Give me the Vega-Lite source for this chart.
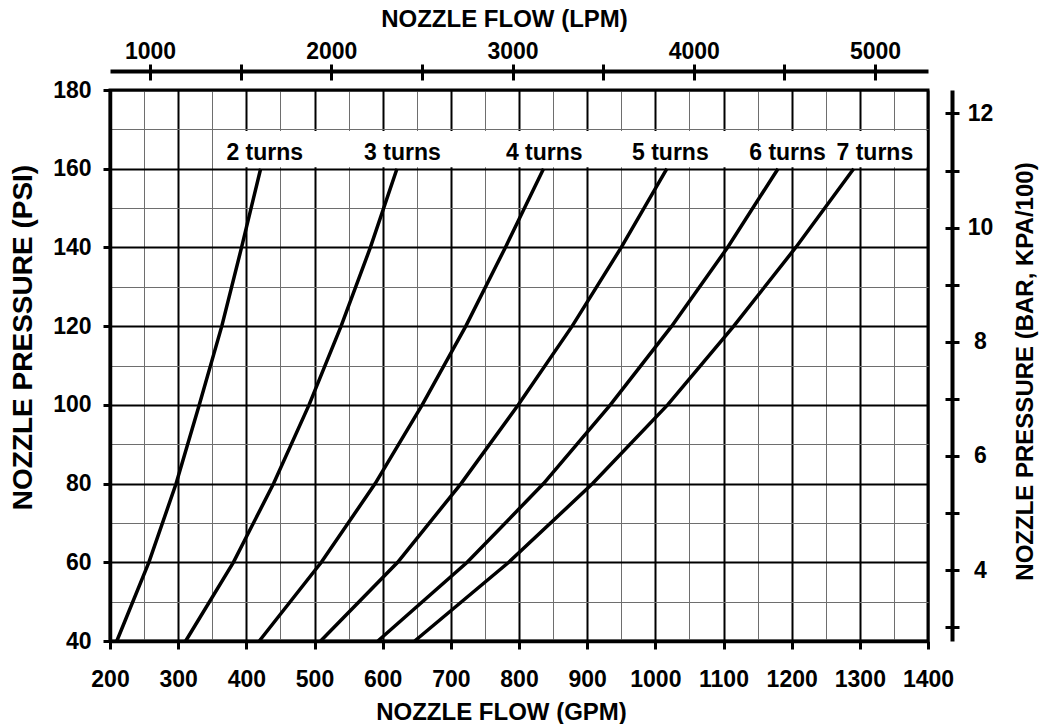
{
  "$schema": "https://vega.github.io/schema/vega-lite/v6.json",
  "width": 818,
  "height": 551,
  "autosize": {"type": "none"},
  "padding": {"left": 110, "top": 90, "right": 111, "bottom": 83},
  "background": "white",
  "config": {
    "view": {"stroke": "black", "strokeWidth": 3},
    "font": "Liberation Sans",
    "axis": {
      "labelFont": "Liberation Sans", "labelFontWeight": "bold", "labelFontSize": 23, "labelColor": "black",
      "titleFont": "Liberation Sans", "titleFontWeight": "bold", "titleFontSize": 24, "titleColor": "black",
      "labelOverlap": false, "labelFlush": false
    }
  },
  "datasets": {
    "curves": [
      {"turns": "2 turns", "psi": 40, "gpm": 210}, {"turns": "2 turns", "psi": 60, "gpm": 257}, {"turns": "2 turns", "psi": 80, "gpm": 297}, {"turns": "2 turns", "psi": 100, "gpm": 331}, {"turns": "2 turns", "psi": 120, "gpm": 364}, {"turns": "2 turns", "psi": 140, "gpm": 393}, {"turns": "2 turns", "psi": 160, "gpm": 421},
      {"turns": "3 turns", "psi": 40, "gpm": 311}, {"turns": "3 turns", "psi": 60, "gpm": 381}, {"turns": "3 turns", "psi": 80, "gpm": 440}, {"turns": "3 turns", "psi": 100, "gpm": 492}, {"turns": "3 turns", "psi": 120, "gpm": 539}, {"turns": "3 turns", "psi": 140, "gpm": 582}, {"turns": "3 turns", "psi": 160, "gpm": 621},
      {"turns": "4 turns", "psi": 40, "gpm": 419}, {"turns": "4 turns", "psi": 60, "gpm": 510}, {"turns": "4 turns", "psi": 80, "gpm": 589}, {"turns": "4 turns", "psi": 100, "gpm": 658}, {"turns": "4 turns", "psi": 120, "gpm": 722}, {"turns": "4 turns", "psi": 140, "gpm": 780}, {"turns": "4 turns", "psi": 160, "gpm": 836},
      {"turns": "5 turns", "psi": 40, "gpm": 509}, {"turns": "5 turns", "psi": 60, "gpm": 622}, {"turns": "5 turns", "psi": 80, "gpm": 715}, {"turns": "5 turns", "psi": 100, "gpm": 799}, {"turns": "5 turns", "psi": 120, "gpm": 878}, {"turns": "5 turns", "psi": 140, "gpm": 950}, {"turns": "5 turns", "psi": 160, "gpm": 1017},
      {"turns": "6 turns", "psi": 40, "gpm": 593}, {"turns": "6 turns", "psi": 60, "gpm": 724}, {"turns": "6 turns", "psi": 80, "gpm": 836}, {"turns": "6 turns", "psi": 100, "gpm": 934}, {"turns": "6 turns", "psi": 120, "gpm": 1024}, {"turns": "6 turns", "psi": 140, "gpm": 1106}, {"turns": "6 turns", "psi": 160, "gpm": 1180},
      {"turns": "7 turns", "psi": 40, "gpm": 647}, {"turns": "7 turns", "psi": 60, "gpm": 785}, {"turns": "7 turns", "psi": 80, "gpm": 908}, {"turns": "7 turns", "psi": 100, "gpm": 1018}, {"turns": "7 turns", "psi": 120, "gpm": 1115}, {"turns": "7 turns", "psi": 140, "gpm": 1206}, {"turns": "7 turns", "psi": 160, "gpm": 1291}
    ],
    "labels": [
      {"label": "2 turns", "gpm": 427, "psi": 160},
      {"label": "3 turns", "gpm": 629, "psi": 160},
      {"label": "4 turns", "gpm": 837, "psi": 160},
      {"label": "5 turns", "gpm": 1022, "psi": 160},
      {"label": "6 turns", "gpm": 1194, "psi": 160},
      {"label": "7 turns", "gpm": 1322, "psi": 160}
    ]
  },
  "layer": [
    {
      "data": {"values": [{}]},
      "mark": {"type": "point", "opacity": 0},
      "encoding": {
        "x": {
          "datum": 300, "type": "quantitative",
          "scale": {"domain": [200, 1400], "nice": false, "zero": false},
          "axis": {
            "orient": "bottom",
            "values": [250, 350, 450, 550, 650, 750, 850, 950, 1050, 1150, 1250, 1350],
            "grid": true, "gridColor": "#6e6e6e", "gridWidth": 1,
            "domain": false, "ticks": false, "labels": false, "title": null
          }
        },
        "y": {
          "datum": 50, "type": "quantitative",
          "scale": {"domain": [40, 180], "nice": false, "zero": false},
          "axis": {
            "orient": "left",
            "values": [50, 70, 90, 110, 130, 150, 170],
            "grid": true, "gridColor": "#6e6e6e", "gridWidth": 1,
            "domain": false, "ticks": false, "labels": false, "title": null
          }
        }
      }
    },
    {
      "layer": [
        {
          "data": {"values": [{}]},
          "mark": {"type": "rect", "fill": "white"},
          "encoding": {
            "x": {"datum": 355, "type": "quantitative"},
            "x2": {"datum": 1397.8},
            "y": {"datum": 160.4, "type": "quantitative"},
            "y2": {"datum": 169.6}
          }
        },
        {
          "data": {"name": "curves"},
          "mark": {"type": "line", "color": "black", "strokeWidth": 3.5},
          "encoding": {
            "x": {
              "field": "gpm", "type": "quantitative",
              "scale": {"domain": [200, 1400], "nice": false, "zero": false},
              "axis": {
                "orient": "bottom",
                "values": [200, 300, 400, 500, 600, 700, 800, 900, 1000, 1100, 1200, 1300, 1400],
                "format": "d",
                "grid": true, "gridColor": "black", "gridWidth": 2,
                "domain": true, "domainColor": "black", "domainWidth": 3.5,
                "ticks": true, "tickSize": 8, "tickWidth": 3, "tickColor": "black",
                "labelBaseline": "alphabetic", "labelPadding": 37,
                "title": "NOZZLE FLOW (GPM)",
                "titleX": 391, "titleY": 78, "titleAlign": "center", "titleBaseline": "alphabetic"
              }
            },
            "y": {
              "field": "psi", "type": "quantitative",
              "scale": {"domain": [40, 180], "nice": false, "zero": false},
              "axis": {
                "orient": "left",
                "values": [40, 60, 80, 100, 120, 140, 160, 180],
                "grid": true, "gridColor": "black", "gridWidth": 2,
                "domain": true, "domainColor": "black", "domainWidth": 3.5,
                "ticks": true, "tickSize": 7, "tickWidth": 3, "tickColor": "black",
                "labelBaseline": "middle", "labelPadding": 12,
                "title": "NOZZLE PRESSURE (PSI)", "titleFontSize": 28,
                "titleAngle": 270, "titleX": -79, "titleY": 247, "titleAlign": "center", "titleBaseline": "alphabetic"
              }
            },
            "detail": {"field": "turns"},
            "order": {"field": "psi", "type": "quantitative"}
          }
        },
        {
          "data": {"name": "labels"},
          "mark": {"type": "text", "font": "Liberation Sans", "fontSize": 23, "fontWeight": "bold", "color": "black", "align": "center", "baseline": "alphabetic", "dy": -9},
          "encoding": {
            "x": {"field": "gpm", "type": "quantitative"},
            "y": {"field": "psi", "type": "quantitative"},
            "text": {"field": "label"}
          }
        }
      ]
    },
    {
      "data": {"values": [{}]},
      "mark": {"type": "point", "opacity": 0},
      "encoding": {
        "x": {
          "datum": 1000, "type": "quantitative",
          "scale": {"domain": [779.3, 5292.4], "nice": false, "zero": false},
          "axis": {
            "orient": "top", "values": [1000, 1500, 2000, 2500, 3000, 3500, 4000, 4500, 5000],
            "format": "d", "offset": 10, "domain": false, "grid": false,
            "ticks": true, "tickSize": 16, "tickWidth": 3, "tickColor": "black",
            "labelExpr": "datum.value % 1000 === 0 ? datum.label : ''",
            "labelBaseline": "alphabetic", "labelPadding": 6,
            "title": null
          }
        }
      }
    },
    {
      "data": {"values": [{}]},
      "mark": {"type": "point", "opacity": 0},
      "encoding": {
        "x": {
          "datum": 1000, "type": "quantitative",
          "scale": {"domain": [779.3, 5292.4], "nice": false, "zero": false},
          "axis": {
            "orient": "top", "offset": 19, "domain": true, "domainWidth": 4, "domainColor": "black",
            "ticks": false, "labels": false, "grid": false,
            "title": "NOZZLE FLOW (LPM)",
            "titleX": 394, "titleY": -45, "titleAlign": "center", "titleBaseline": "alphabetic"
          }
        }
      }
    },
    {
      "data": {"values": [{}]},
      "mark": {"type": "point", "opacity": 0},
      "encoding": {
        "y": {
          "datum": 5, "type": "quantitative",
          "scale": {"domain": [2.7579, 12.4105], "nice": false, "zero": false},
          "axis": {
            "orient": "right", "values": [3, 4, 5, 6, 7, 8, 9, 10, 11, 12],
            "offset": 17, "domain": false, "grid": false,
            "ticks": true, "tickSize": 14, "tickWidth": 3, "tickColor": "black",
            "labelExpr": "datum.value % 2 === 0 ? datum.label : ''",
            "labelAlign": "center", "labelBaseline": "middle", "labelPadding": 21,
            "title": null
          }
        }
      }
    },
    {
      "data": {"values": [{}]},
      "mark": {"type": "point", "opacity": 0},
      "encoding": {
        "y": {
          "datum": 5, "type": "quantitative",
          "scale": {"domain": [2.7579, 12.4105], "nice": false, "zero": false},
          "axis": {
            "orient": "right", "offset": 24, "domain": true, "domainWidth": 4, "domainColor": "black",
            "ticks": false, "labels": false, "grid": false,
            "title": "NOZZLE PRESSURE (BAR, KPA/100)",
            "titleAngle": 270, "titleX": 80, "titleY": 281, "titleAlign": "center", "titleBaseline": "alphabetic"
          }
        }
      }
    }
  ],
  "resolve": {
    "scale": {"x": "independent", "y": "independent"},
    "axis": {"x": "independent", "y": "independent"}
  }
}
